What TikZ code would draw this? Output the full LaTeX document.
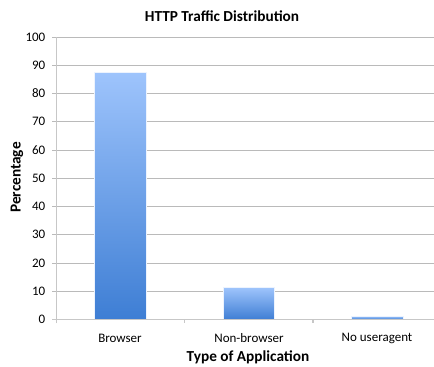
\documentclass[tikz,border=0pt]{standalone}
\usepackage{fontspec}
\setmainfont{Carlito}
\begin{document}
\begin{tikzpicture}[x=1pt,y=1pt,
  grid/.style={draw=black!27,line width=0.9pt},
  axisline/.style={draw=black!22,line width=1.6pt},
  ticklab/.style={font=\fontsize{13}{15}\selectfont,text=black,inner sep=0pt},
  axtitle/.style={font=\fontsize{15.3}{17}\bfseries\selectfont,inner sep=0pt},
  bar/.style={top color=barTop,bottom color=barBot,draw=white!80!barTop,line width=0.5pt}]
\definecolor{barTop}{RGB}{158,196,252}
\definecolor{barBot}{RGB}{62,126,212}
\useasboundingbox (0,0) rectangle (434,367);
% horizontal gridlines with value labels (0 at y=47.5, 2.825 units per percent)
\foreach \v [count=\i] in {10,20,...,100}{
  \draw[grid] (52,{47.5+2.825*\v}) -- (434,{47.5+2.825*\v});
  \node[ticklab,anchor=east] (yl\i) at (45.5,{47.5+2.825*\v}) {\v};
}
\node[ticklab,anchor=east] (yl0) at (45.5,47.5) {0};
% bars
\path[bar] (94,47.5) rectangle (146,{47.5+2.825*87.5});
\path[bar] (223,47.5) rectangle (274,{47.5+2.825*11.3});
\path[bar] (351,47.5) rectangle (403,{47.5+2.825*1.2});
% axes and ticks
\draw[axisline] (52,47.5) -- (434,47.5);
\draw[axisline] (56.5,43.5) -- (56.5,330);
\foreach \x in {184.5,313}{
  \draw[axisline,line width=1.2pt] (\x,47.5) -- (\x,43.5);
}
% category labels
\node[ticklab] (c1) at (120,29) {Browser};
\node[ticklab] (c2) at (249,29) {Non-browser};
\node[ticklab] (c3) at (377,29) {No useragent};
% titles
\node[axtitle] (title) at (222,351) {HTTP Traffic Distribution};
\node[axtitle] (xt) at (248,10) {Type of Application};
\node[axtitle,rotate=90] (yt) at (17,189.5) {Percentage};
\end{tikzpicture}
\end{document}
